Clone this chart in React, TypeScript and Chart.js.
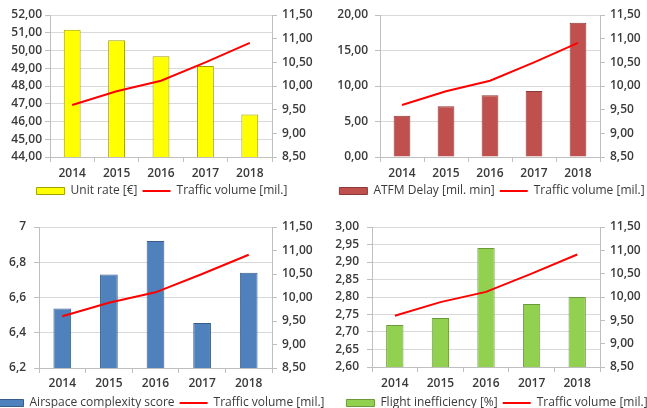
import React, { useEffect, useRef } from 'react';
import { Chart, registerables } from 'chart.js';

Chart.register(...registerables);

const years = ['2014', '2015', '2016', '2017', '2018'];
const traffic = [9.6, 9.89, 10.11, 10.5, 10.91];
const trafficLabel = 'Traffic volume [mil.]';
const unitRate = [51.17, 50.58, 49.67, 49.13, 46.4];
const atfmDelay = [5.82, 7.14, 8.7, 9.31, 18.91];
const complexity = [6.538, 6.73, 6.92, 6.455, 6.74];
const inefficiency = [2.72, 2.74, 2.94, 2.78, 2.8];

const FONT = "'Open Sans', sans-serif";
const TEXT = '#3A3A3A';
const GRID = '#D9D9D9';
const AXIS = '#BFBFBF';

const fmt2 = (v: any) => Number(v).toFixed(2).replace('.', ',');
const fmtG = (v: any) => String(Math.round(Number(v) * 10) / 10).replace('.', ',');

type PanelDef = {
  label: string;
  values: number[];
  fill: string;
  border: string;
  min: number;
  max: number;
  step: number;
  fmt: (v: any) => string;
  left: number;
  top: number;
  w: number;
  h: number;
  padTop: number;
  leftW: number;
  rightW: number;
  xH: number;
  xPad: number;
  yPad: number;
};

const panels: PanelDef[] = [
  {
    label: 'Unit rate [€]', values: unitRate, fill: '#FFFF00', border: '#A0A000',
    min: 44, max: 52, step: 1, fmt: fmt2,
    left: -28, top: 0, w: 380, h: 207, padTop: 15, leftW: 78, rightW: 80, xH: 23, xPad: 4, yPad: 3,
  },
  {
    label: 'ATFM Delay [mil. min]', values: atfmDelay, fill: '#C0504D', border: '#8C3836',
    min: 0, max: 20, step: 5, fmt: fmt2,
    left: 302, top: 0, w: 380, h: 207, padTop: 15, leftW: 78, rightW: 82, xH: 23, xPad: 4, yPad: 7,
  },
  {
    label: 'Airspace complexity score', values: complexity, fill: '#4F81BD', border: '#385D8A',
    min: 6.2, max: 7, step: 0.2, fmt: fmtG,
    left: -30, top: 200, w: 380, h: 219, padTop: 27, leftW: 69, rightW: 78, xH: 24, xPad: 3, yPad: 8,
  },
  {
    label: 'Flight inefficiency [%]', values: inefficiency, fill: '#92D050', border: '#6A9A3A',
    min: 2.6, max: 3.0, step: 0.05, fmt: fmt2,
    left: 307, top: 200, w: 380, h: 219, padTop: 27, leftW: 65, rightW: 87, xH: 25, xPad: 4, yPad: 8,
  },
];

function Panel({ def }: { def: PanelDef }) {
  const ref = useRef<HTMLCanvasElement | null>(null);
  useEffect(() => {
    const font = { family: FONT, size: 12, weight: '600' };
    const chart = new Chart(ref.current as HTMLCanvasElement, {
      type: 'bar',
      data: {
        labels: years,
        datasets: [
          {
            type: 'bar',
            label: def.label,
            data: def.values,
            backgroundColor: def.fill,
            borderColor: def.border,
            borderWidth: 1,
            yAxisID: 'y',
            order: 2,
            pointStyle: 'rect',
            barPercentage: 0.38,
            categoryPercentage: 1,
          } as any,
          {
            type: 'line',
            label: trafficLabel,
            data: traffic,
            borderColor: '#FF0000',
            backgroundColor: '#FF0000',
            borderWidth: 2,
            pointRadius: 0,
            pointStyle: 'line',
            yAxisID: 'y1',
            order: 1,
            tension: 0,
          } as any,
        ],
      },
      options: {
        responsive: false,
        animation: false,
        devicePixelRatio: 1,
        layout: { padding: { top: def.padTop, left: 0, right: 0, bottom: 0 } },
        plugins: {
          tooltip: { enabled: false },
          legend: {
            position: 'bottom',
            labels: {
              usePointStyle: true,
              pointStyleWidth: 28,
              boxWidth: 28,
              boxHeight: 7,
              padding: 5,
              color: TEXT,
              font: { family: FONT, size: 12, weight: '500' },
              sort: (a: any, b: any) => a.datasetIndex - b.datasetIndex,
            },
          },
        },
        scales: {
          x: {
            grid: { offset: true, drawOnChartArea: false, drawTicks: true, tickLength: 5, color: AXIS },
            border: { color: AXIS },
            ticks: { color: TEXT, font, padding: def.xPad, maxRotation: 0 },
            afterFit: (s: any) => { s.height = def.xH; },
          },
          y: {
            position: 'left',
            min: def.min,
            max: def.max,
            ticks: { stepSize: def.step, callback: def.fmt, color: TEXT, font, padding: def.yPad },
            grid: { color: GRID, tickColor: AXIS, tickLength: 5 },
            border: { color: AXIS },
            afterFit: (s: any) => { s.width = def.leftW; },
          },
          y1: {
            position: 'right',
            min: 8.5,
            max: 11.5,
            ticks: { stepSize: 0.5, callback: fmt2, color: TEXT, font, padding: 5 },
            grid: { drawOnChartArea: false, color: AXIS, tickLength: 5 },
            border: { color: AXIS },
            afterFit: (s: any) => { s.width = def.rightW; },
          },
        },
      } as any,
    });
    return () => chart.destroy();
  }, []);
  return (
    <canvas
      ref={ref}
      width={def.w}
      height={def.h}
      style={{ position: 'absolute', left: def.left, top: def.top, width: def.w, height: def.h }}
    />
  );
}

export default function App() {
  return (
    <div
      style={{
        position: 'fixed', left: 0, top: 0, width: 647, height: 408,
        overflow: 'hidden', background: '#ffffff',
      }}
    >
      {panels.map((p, i) => (
        <Panel key={i} def={p} />
      ))}
    </div>
  );
}
